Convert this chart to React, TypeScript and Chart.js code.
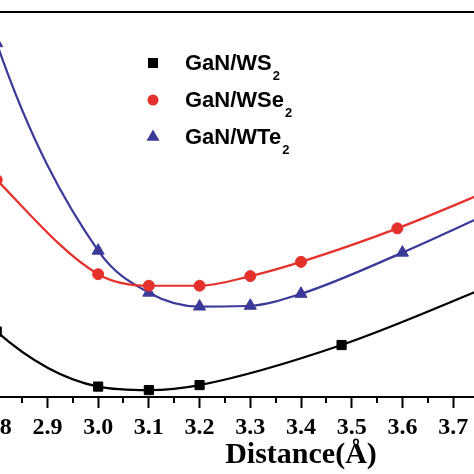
import React, { useEffect, useRef } from "react";
import { Chart, registerables } from "chart.js";

Chart.register(...registerables);

// ---- data (distance in Å, energy in arbitrary units) ----
const xTickValues = [2.7, 2.8, 2.9, 3.0, 3.1, 3.2, 3.3, 3.4, 3.5, 3.6, 3.7, 3.8, 3.9, 4.0, 4.1];
const xMinorTickValues = [2.75, 2.85, 2.95, 3.05, 3.15, 3.25, 3.35, 3.45, 3.55, 3.65, 3.75, 3.85, 3.95, 4.05];
const seriesLabels = ["GaN/WS2", "GaN/WSe2", "GaN/WTe2"];
const axisTitle = "Distance(Å)";

const wsDistance = [2.7, 2.8, 3.0, 3.1, 3.2, 3.48, 3.8];
const wsEnergy = [33, 17.0, 2.7, 1.8, 3.1, 13.5, 30.3];

const wseDistance = [2.7, 2.8, 3.0, 3.1, 3.2, 3.3, 3.4, 3.59, 3.8];
const wseEnergy = [71, 56.4, 31.9, 28.9, 28.9, 31.4, 35.1, 43.8, 55.2];

const wteDistance = [2.7, 2.8, 3.0, 3.1, 3.2, 3.3, 3.4, 3.6, 3.8];
const wteEnergy = [141, 91.9, 38.0, 27.1, 23.5, 23.7, 26.8, 37.5, 49.5];

const X_MIN = 2.7;
const X_MAX = 4.1;
const Y_MIN = 0;
const Y_MAX = 100;

const COLORS = ["#000000", "#e5312c", "#3c3a98"];
const POINT_STYLES = ["rect", "circle", "triangle"];
const POINT_RADII = [6.5, 5.5, 7];

const toPoints = (xs: number[], ys: number[]) => xs.map((x, i) => ({ x, y: ys[i] }));

const minorTicksPlugin = {
  id: "minorTicks",
  afterDraw(chart: any) {
    const xs = chart.scales.x;
    const ctx = chart.ctx;
    const bottom = chart.chartArea.bottom;
    ctx.save();
    ctx.strokeStyle = "#000";
    ctx.lineWidth = 2;
    xMinorTickValues.forEach((v) => {
      const px = Math.round(xs.getPixelForValue(v));
      ctx.beginPath();
      ctx.moveTo(px, bottom);
      ctx.lineTo(px, bottom + 6);
      ctx.stroke();
    });
    ctx.restore();
  },
};

const legendPlugin = {
  id: "subscriptLegend",
  afterDraw(chart: any) {
    const ctx = chart.ctx;
    const markerX = chart.chartArea.left + 207;
    const textX = chart.chartArea.left + 239;
    const rowY = [63, 100, 137];
    ctx.save();
    chart.data.datasets.forEach((ds: any, i: number) => {
      const y = rowY[i];
      ctx.fillStyle = ds.borderColor;
      ctx.beginPath();
      if (ds.pointStyle === "rect") {
        ctx.rect(markerX - 5, y - 5, 10, 10);
      } else if (ds.pointStyle === "circle") {
        ctx.arc(markerX, y, 5.5, 0, Math.PI * 2);
      } else {
        const r = 7.5;
        ctx.moveTo(markerX, y - r);
        ctx.lineTo(markerX + r * 0.866, y + r * 0.5);
        ctx.lineTo(markerX - r * 0.866, y + r * 0.5);
        ctx.closePath();
      }
      ctx.fill();

      const m = /^(.*?)(\d+)$/.exec(ds.label) || [ds.label, ds.label, ""];
      const main = m[1];
      const sub = m[2];
      const base = y + 7;
      ctx.fillStyle = "#000";
      ctx.textBaseline = "alphabetic";
      ctx.textAlign = "left";
      ctx.font = "bold 22px 'Liberation Sans', Arial, sans-serif";
      ctx.fillText(main, textX, base);
      const w = ctx.measureText(main).width;
      ctx.font = "bold 13px 'Liberation Sans', Arial, sans-serif";
      ctx.fillText(sub, textX + w + 1, base + 10);
    });
    ctx.restore();
  },
};

export default function App() {
  const canvasRef = useRef<HTMLCanvasElement | null>(null);

  useEffect(() => {
    if (!canvasRef.current) return;
    const series = [
      toPoints(wsDistance, wsEnergy),
      toPoints(wseDistance, wseEnergy),
      toPoints(wteDistance, wteEnergy),
    ];
    const chart = new Chart(canvasRef.current, {
      type: "line",
      data: {
        datasets: series.map((data, i) => ({
          label: seriesLabels[i],
          data,
          borderColor: COLORS[i],
          backgroundColor: COLORS[i],
          borderWidth: 2.2,
          pointStyle: POINT_STYLES[i] as any,
          pointRadius: POINT_RADII[i],
          pointBorderWidth: 1,
          pointBackgroundColor: COLORS[i],
          pointBorderColor: COLORS[i],
          cubicInterpolationMode: "monotone" as const,
          fill: false,
        })),
      },
      options: {
        animation: false,
        responsive: false,
        devicePixelRatio: 1,
        layout: { autoPadding: false, padding: { top: 12, left: 0, right: 0, bottom: 0 } },
        plugins: {
          legend: { display: false },
          tooltip: { enabled: false },
        },
        scales: {
          x: {
            type: "linear",
            position: "bottom",
            min: X_MIN,
            max: X_MAX,
            afterBuildTicks: (scale: any) => {
              scale.ticks = xTickValues.map((v) => ({ value: v }));
            },
            afterFit: (scale: any) => {
              scale.paddingLeft = 0;
              scale.paddingRight = 0;
            },
            grid: {
              display: true,
              drawOnChartArea: false,
              drawTicks: true,
              tickLength: 11,
              tickWidth: 2,
              tickColor: "#000",
            },
            border: { display: true, color: "#000", width: 2 },
            ticks: {
              autoSkip: false,
              maxRotation: 0,
              minRotation: 0,
              padding: 8,
              color: "#000",
              font: { family: "'Liberation Serif', 'Times New Roman', serif", size: 24, weight: "bold", lineHeight: 1 },
              callback: (v: any) => Number(v).toFixed(1),
            },
            title: {
              display: true,
              text: axisTitle,
              color: "#000",
              padding: { top: 0, bottom: 11 },
              font: { family: "'Liberation Serif', 'Times New Roman', serif", size: 30, weight: "bold", lineHeight: 0.5 },
            },
          },
          xTop: {
            type: "linear",
            position: "top",
            min: X_MIN,
            max: X_MAX,
            grid: { display: false },
            ticks: { display: false },
            border: { display: true, color: "#000", width: 2 },
            afterFit: (scale: any) => {
              scale.paddingLeft = 0;
              scale.paddingRight = 0;
              scale.height = 0;
            },
          },
          y: {
            type: "linear",
            display: false,
            min: Y_MIN,
            max: Y_MAX,
          },
        },
      },
      plugins: [minorTicksPlugin, legendPlugin],
    });
    return () => chart.destroy();
  }, []);

  return (
    <div style={{ position: "fixed", left: -54, top: 0, width: 710, height: 474, background: "#fff" }}>
      <canvas ref={canvasRef} width={710} height={474} style={{ display: "block", width: 710, height: 474 }} />
    </div>
  );
}
